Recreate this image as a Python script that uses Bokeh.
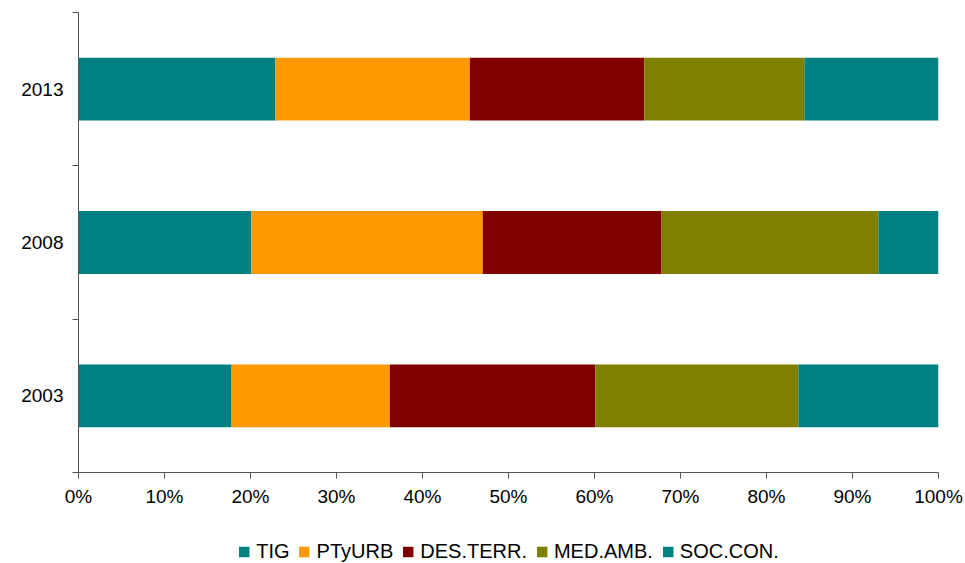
from bokeh.plotting import figure
from bokeh.layouts import column
from bokeh.models import ColumnDataSource, FixedTicker, Legend, LegendItem, PrintfTickFormatter, Range1d
from bokeh.embed import file_html
from bokeh.resources import INLINE

years = ["2003", "2008", "2013"]
year_pos = [1, 2, 3]
series = ["TIG", "PTyURB", "DES.TERR.", "MED.AMB.", "SOC.CON."]
colors = ["#008080", "#FF9900", "#800000", "#808000", "#008080"]
tig = [17.8, 20.1, 22.9]
ptyurb = [18.4, 26.9, 22.6]
desterr = [23.9, 20.8, 20.3]
medamb = [23.6, 25.2, 18.6]
soccon = [16.3, 7.0, 15.6]
x_ticks = [0, 10, 20, 30, 40, 50, 60, 70, 80, 90, 100]

source = ColumnDataSource(dict(y=year_pos, TIG=tig, PTyURB=ptyurb,
                               **{"DES.TERR.": desterr, "MED.AMB.": medamb, "SOC.CON.": soccon}))

p = figure(width=965, height=510, output_backend="svg", toolbar_location=None,
           x_range=Range1d(0, 100), y_range=Range1d(0.5, 3.5),
           min_border_left=78, min_border_right=27, min_border_top=12, min_border_bottom=38)
p.outline_line_color = None
p.grid.visible = False
p.background_fill_color = "white"

p.hbar_stack(series, y="y", height=0.41, color=colors, source=source, line_color=None)

font = "Liberation Sans"
fs = "19px"
axis_col = "#555555"
xa = p.xaxis[0]
xa.ticker = FixedTicker(ticks=x_ticks)
xa.formatter = PrintfTickFormatter(format="%d%%")
xa.major_tick_in = 0
xa.major_tick_out = 6
xa.minor_tick_out = 0
xa.axis_line_color = axis_col
xa.major_tick_line_color = axis_col
xa.major_label_text_font = font
xa.major_label_text_font_size = fs
xa.major_label_text_color = "black"
xa.major_label_standoff = 7

ya = p.yaxis[0]
ya.ticker = FixedTicker(ticks=year_pos, minor_ticks=[0.5, 1.5, 2.5, 3.5])
ya.major_label_overrides = {1: years[0], 2: years[1], 3: years[2]}
ya.major_tick_in = 0
ya.major_tick_out = 0
ya.minor_tick_in = 0
ya.minor_tick_out = 6
ya.axis_line_color = axis_col
ya.minor_tick_line_color = axis_col
ya.major_label_text_font = font
ya.major_label_text_font_size = fs
ya.major_label_text_color = "black"
ya.major_label_standoff = 9

# Legend strip below the chart (same series, drawn out of view so only the legend shows)
pl = figure(width=965, height=53, output_backend="svg", toolbar_location=None,
            x_range=p.x_range, y_range=Range1d(10, 11),
            min_border_left=56, min_border_right=0, min_border_top=0, min_border_bottom=0)
pl.axis.visible = False
pl.grid.visible = False
pl.outline_line_color = None
leg_renderers = pl.hbar_stack(series, y="y", height=0.41, color=colors, source=source, line_color=None)

items = [LegendItem(label=s, renderers=[r]) for s, r in zip(series, leg_renderers)]
legend = Legend(items=items, orientation="horizontal", location="bottom_center",
                glyph_width=13, glyph_height=13, label_standoff=6, spacing=8,
                label_text_font=font, label_text_font_size="20px", label_text_color="black",
                border_line_color=None, background_fill_alpha=0, padding=1, margin=0,
                label_height=20)
pl.add_layout(legend, "center")

layout = column(p, pl, spacing=0)
open("out.html", "w").write(file_html(layout, INLINE))
